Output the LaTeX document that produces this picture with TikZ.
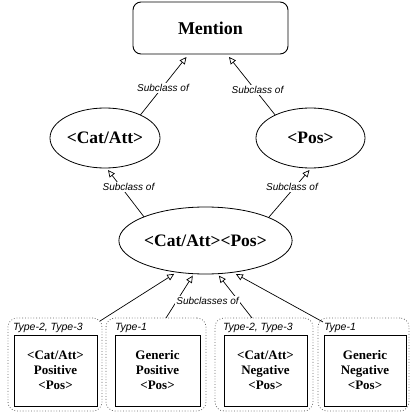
\documentclass[tikz,border=0pt]{standalone}
\usepackage{fontspec}
\setmainfont{Liberation Serif}
\newfontfamily\lsans{Liberation Sans}
\usetikzlibrary{shapes.geometric,arrows.meta}
\begin{document}
\begin{tikzpicture}[x=1pt,y=-1pt,
  every node/.style={inner sep=0pt,outer sep=0pt},
  big/.style={font=\fontsize{17.5}{20}\selectfont\bfseries},
  ell/.style={draw,ellipse,line width=0.8pt,big},
  rbox/.style={draw,rectangle,line width=0.8pt,font=\fontsize{13}{15}\selectfont\bfseries,align=center},
  cont/.style={draw=black!60,dotted,line width=0.8pt,rounded corners=9pt},
  lbl/.style={fill=white,inner sep=1pt,font=\lsans\itshape\fontsize{10}{12}\selectfont},
  tlbl/.style={anchor=west,font=\lsans\itshape\fontsize{10.5}{12}\selectfont},
  sub/.style={line width=0.7pt,-{Triangle[open,length=7pt,width=6.5pt,fill=white]}}]
\useasboundingbox (0,0) rectangle (410,417);
% main nodes
\node[draw,rectangle,rounded corners=8pt,line width=0.9pt,minimum width=155pt,minimum height=52pt,big,font=\fontsize{18}{20}\selectfont\bfseries] (mention) at (210.5,28) {Mention};
\node[ell,minimum width=110pt,minimum height=60pt] (catatt) at (105,138) {<Cat/Att>};
\node[ell,minimum width=109pt,minimum height=60pt] (pos) at (310.5,138) {<Pos>};
\node[ell,minimum width=165pt,minimum height=67pt] (mid) at (205.5,240.5) {<Cat/Att><Pos>};
% containers
\node[cont,minimum width=94pt,minimum height=93pt] (c1) at (55,364.5) {};
\node[cont,minimum width=100pt,minimum height=93pt] (c2) at (156,364.5) {};
\node[cont,minimum width=98pt,minimum height=93pt] (c3) at (264,364.5) {};
\node[cont,minimum width=91pt,minimum height=93pt] (c4) at (363.5,364.5) {};
% type labels
\node[tlbl] (t1) at (13,328) {Type-2, Type-3};
\node[tlbl] (t2) at (115,328) {Type-1};
\node[tlbl] (t3) at (223,328) {Type-2, Type-3};
\node[tlbl] (t4) at (324,328) {Type-1};
% inner boxes
\node[rbox,minimum width=83pt,minimum height=71pt] (b1) at (55.5,370.5) {<Cat/Att>\\Positive\\<Pos>};
\node[rbox,minimum width=85pt,minimum height=71pt] (b2) at (157.5,370.5) {Generic\\Positive\\<Pos>};
\node[rbox,minimum width=83pt,minimum height=71pt] (b3) at (265.5,370.5) {<Cat/Att>\\Negative\\<Pos>};
\node[rbox,minimum width=82pt,minimum height=71pt] (b4) at (365,370.5) {Generic\\Negative\\<Pos>};
% connectors
\draw[sub] (catatt.33) -- ([xshift=-24pt,yshift=-3pt]mention.south);
\draw[sub] (pos.147) -- ([xshift=18.5pt,yshift=-3pt]mention.south);
\draw[sub] (mid.159) -- ([xshift=3pt,yshift=-2pt]catatt.south);
\draw[sub] (mid.20) -- ([xshift=-1pt,yshift=-2pt]pos.south);
\draw[sub] ([xshift=-2pt,yshift=-3pt]c1.north east) -- ([xshift=-1pt,yshift=-2pt]mid.226);
\draw[sub] ([xshift=10pt]c2.north) -- ([yshift=-2pt]mid.249);
\draw[sub] ([xshift=-12pt]c3.north) -- ([yshift=-2pt]mid.292);
\draw[sub] ([xshift=5pt,yshift=-4pt]c4.north west) -- ([xshift=1pt,yshift=-2pt]mid.313);
% labels
\node[lbl] (l1) at (163,88) {Subclass of};
\node[lbl] (l2) at (257.5,90) {Subclass of};
\node[lbl] (l3) at (128.5,187) {Subclass of};
\node[lbl] (l4) at (292,187) {Subclass of};
\node[lbl] (l5) at (207.5,301) {Subclasses of};
\end{tikzpicture}
\end{document}
